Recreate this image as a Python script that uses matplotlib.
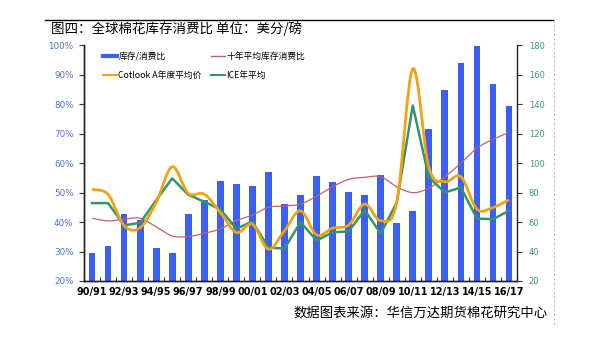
import matplotlib
matplotlib.use("Agg")
import matplotlib.pyplot as plt
import numpy as np
from matplotlib.path import Path
from matplotlib.patches import PathPatch
from matplotlib.lines import Line2D
from matplotlib.ticker import FuncFormatter, MultipleLocator, FixedLocator

plt.rcParams['font.family'] = ['Noto Sans CJK SC', 'DejaVu Sans']

seasons = ["90/91", "91/92", "92/93", "93/94", "94/95", "95/96", "96/97", "97/98",
           "98/99", "99/00", "00/01", "01/02", "02/03", "03/04", "04/05", "05/06",
           "06/07", "07/08", "08/09", "09/10", "10/11", "11/12", "12/13", "13/14",
           "14/15", "15/16", "16/17"]

# stock-to-use ratio, %
stock_use = [29.4, 32.0, 42.8, 40.7, 31.3, 29.5, 42.8, 47.5, 54.1, 52.8, 52.2, 56.9,
             46.1, 49.2, 55.6, 53.5, 50.2, 49.2, 55.9, 39.6, 43.9, 71.5, 84.9, 93.9,
             99.9, 86.9, 79.5]
# ten-year average stock-to-use ratio, %
stock_use_10y = [41.3, 40.4, 41.0, 41.3, 38.4, 35.3, 35.1, 36.2, 37.7, 40.5, 42.4, 45.0,
                 45.5, 46.1, 48.8, 52.0, 54.5, 55.2, 55.4, 52.0, 50.0, 51.5, 55.4, 60.0,
                 65.1, 68.1, 70.4]
# Cotlook A annual average, cents/lb
cotlook_a = [82.2, 78.8, 57.6, 56.2, 73.3, 97.6, 79.5, 79.0, 66.5, 52.9, 58.6, 41.6,
             54.1, 67.7, 51.3, 55.9, 58.0, 72.2, 60.9, 73.3, 164.1, 97.2, 87.4, 90.8,
             68.8, 69.9, 75.2]
# ICE annual average, cents/lb
ice_avg = [72.9, 72.9, 57.8, 59.5, 74.8, 89.7, 78.6, 73.8, 68.7, 55.5, 60.4, 42.7,
           42.0, 60.0, 47.5, 53.0, 53.7, 68.2, 52.2, 73.3, 139.2, 90.4, 80.1, 83.5,
           62.4, 62.0, 67.7]

C_BAR = '#3a5ff2'
C_RED = '#c2606e'
C_ORANGE = '#f3a20f'
C_GREEN = '#36936a'
C_LEFT = '#5470d0'
C_RIGHT = '#3a9a7a'


def smooth_path(xs, ys):
    """Catmull-Rom style cubic Bezier path through the points."""
    p = np.column_stack([xs, ys]).astype(float)
    n = len(p)
    verts = [p[0]]
    codes = [Path.MOVETO]
    for i in range(n - 1):
        p0 = p[i - 1] if i > 0 else p[i]
        p1 = p[i]
        p2 = p[i + 1]
        p3 = p[i + 2] if i + 2 < n else p[i + 1]
        c1 = p1 + (p2 - p0) / 6.0
        c2 = p2 - (p3 - p1) / 6.0
        verts += [c1, c2, p2]
        codes += [Path.CURVE4] * 3
    return Path(verts, codes)


fig = plt.figure(figsize=(6, 3.39), dpi=100)
ax = fig.add_axes([0.14, 0.1711, 0.7217, 0.695])
ax2 = ax.twinx()

x = np.arange(len(seasons))

ax.bar(x, stock_use, width=0.42, color=C_BAR, zorder=2)
ax.add_patch(PathPatch(smooth_path(x, stock_use_10y), fill=False,
                       edgecolor=C_RED, lw=0.9, zorder=3))
ax2.add_patch(PathPatch(smooth_path(x, cotlook_a), fill=False,
                        edgecolor=C_ORANGE, lw=2.0, zorder=4))
ax2.plot(x, ice_avg, color=C_GREEN, lw=1.8, zorder=3)

ax.set_xlim(-0.5, len(seasons) - 0.5)
ax.set_ylim(20, 100)
ax2.set_ylim(20, 180)

ax.yaxis.set_major_locator(MultipleLocator(10))
ax.yaxis.set_major_formatter(FuncFormatter(lambda v, _: f"{v:.0f}%"))
ax2.yaxis.set_major_locator(MultipleLocator(20))

ax.set_xticks(x[::2])
ax.set_xticklabels(seasons[::2], fontsize=7, fontweight='bold',
                   family='DejaVu Sans')
ax.xaxis.set_minor_locator(FixedLocator(np.arange(-0.5, len(seasons), 1.0)))
ax.tick_params(axis='x', which='major', length=0, pad=4)
ax.tick_params(axis='x', which='minor', direction='in', length=3, width=0.8,
               color='#333333')
ax.tick_params(axis='y', direction='out', length=3.5, width=0.8, color='#333333',
               labelsize=6.3, labelcolor=C_LEFT, pad=4)
ax2.tick_params(axis='y', direction='out', length=3.5, width=0.8, color='#333333',
                labelsize=6.0, labelcolor=C_RIGHT, pad=5)
for lab in ax.get_yticklabels() + ax2.get_yticklabels():
    lab.set_family('DejaVu Sans')

for a in (ax, ax2):
    a.spines['top'].set_visible(False)
    for s in ('left', 'right', 'bottom'):
        a.spines[s].set_color('#222222')
        a.spines[s].set_linewidth(1.0)
ax.spines['right'].set_visible(False)

handles = [Line2D([], [], color=C_BAR, lw=3),
           Line2D([], [], color=C_ORANGE, lw=1.5),
           Line2D([], [], color=C_RED, lw=1.0),
           Line2D([], [], color=C_GREEN, lw=1.5)]
labels = ["库存/消费比", "Cotlook A年度平均价", "十年平均库存消费比", "ICE年平均"]
ax.legend(handles, labels, ncol=2, loc='upper left', frameon=False,
          bbox_to_anchor=(0.025, 1.005), fontsize=6.3, handlelength=1.6,
          handletextpad=0.2, columnspacing=1.0, labelspacing=1.15)

fig.add_artist(Line2D([45 / 600, 553 / 600], [1 - 20 / 339] * 2,
                      color='black', lw=1.0))
fig.add_artist(Line2D([554 / 600] * 2, [1 - 20 / 339, 1 - 324 / 339],
                      color='#bbbbbb', lw=0.8, ls=(0, (2, 2))))
fig.text(51 / 600, 1 - 29 / 339, "图四：全球棉花库存消费比 单位：美分/磅",
         fontsize=9.7, va='center', ha='left', color='black')
fig.text(548 / 600, 1 - 313 / 339, "数据图表来源：华信万达期货棉花研究中心",
         fontsize=9.6, va='center', ha='right', color='black')

fig.savefig("out.png", dpi=100)
